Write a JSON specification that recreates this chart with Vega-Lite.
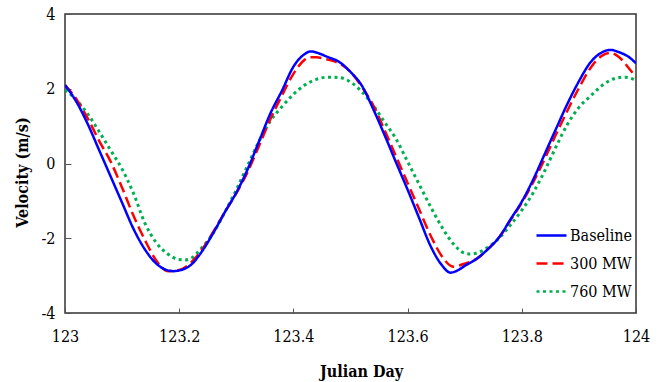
{
  "$schema": "https://vega.github.io/schema/vega-lite/v6.json",
  "autosize": "none",
  "width": 571,
  "height": 299,
  "padding": {"left": 65, "top": 14, "right": 26, "bottom": 69},
  "background": "white",
  "config": {
    "view": {"stroke": "#333", "strokeWidth": 1.5},
    "font": "DejaVu Serif Condensed"
  },
  "datasets": {
    "Baseline": [
      {"d":123.00,"v":2.10},{"d":123.02,"v":1.65},{"d":123.04,"v":1.05},{"d":123.06,"v":0.35},{"d":123.08,"v":-0.35},{"d":123.10,"v":-1.05},{"d":123.12,"v":-1.75},{"d":123.14,"v":-2.30},{"d":123.16,"v":-2.68},{"d":123.18,"v":-2.86},{"d":123.19,"v":-2.88},{"d":123.20,"v":-2.86},{"d":123.22,"v":-2.72},{"d":123.24,"v":-2.35},{"d":123.26,"v":-1.85},{"d":123.28,"v":-1.30},{"d":123.30,"v":-0.78},{"d":123.32,"v":-0.15},{"d":123.34,"v":0.60},{"d":123.36,"v":1.35},{"d":123.38,"v":1.95},{"d":123.40,"v":2.59},{"d":123.42,"v":2.93},{"d":123.43,"v":3.00},{"d":123.44,"v":2.97},{"d":123.46,"v":2.85},{"d":123.48,"v":2.72},{"d":123.50,"v":2.45},{"d":123.52,"v":2.08},{"d":123.54,"v":1.45},{"d":123.56,"v":0.75},{"d":123.58,"v":0.02},{"d":123.60,"v":-0.70},{"d":123.62,"v":-1.45},{"d":123.64,"v":-2.20},{"d":123.66,"v":-2.72},{"d":123.675,"v":-2.92},{"d":123.69,"v":-2.84},{"d":123.70,"v":-2.74},{"d":123.72,"v":-2.56},{"d":123.74,"v":-2.30},{"d":123.76,"v":-1.98},{"d":123.78,"v":-1.50},{"d":123.80,"v":-1.02},{"d":123.82,"v":-0.43},{"d":123.84,"v":0.25},{"d":123.86,"v":0.93},{"d":123.88,"v":1.60},{"d":123.90,"v":2.20},{"d":123.92,"v":2.70},{"d":123.94,"v":2.97},{"d":123.955,"v":3.04},{"d":123.97,"v":2.98},{"d":123.99,"v":2.82},{"d":124.00,"v":2.68}
    ],
    "MW300": [
      {"d":123.00,"v":2.10},{"d":123.02,"v":1.72},{"d":123.04,"v":1.20},{"d":123.06,"v":0.60},{"d":123.08,"v":0.05},{"d":123.10,"v":-0.65},{"d":123.12,"v":-1.40},{"d":123.14,"v":-2.05},{"d":123.16,"v":-2.60},{"d":123.18,"v":-2.88},{"d":123.20,"v":-2.85},{"d":123.22,"v":-2.66},{"d":123.24,"v":-2.30},{"d":123.26,"v":-1.82},{"d":123.28,"v":-1.30},{"d":123.30,"v":-0.80},{"d":123.32,"v":-0.22},{"d":123.34,"v":0.48},{"d":123.36,"v":1.20},{"d":123.38,"v":1.82},{"d":123.40,"v":2.40},{"d":123.42,"v":2.78},{"d":123.43,"v":2.84},{"d":123.44,"v":2.84},{"d":123.46,"v":2.78},{"d":123.48,"v":2.68},{"d":123.50,"v":2.45},{"d":123.52,"v":2.05},{"d":123.54,"v":1.55},{"d":123.56,"v":0.88},{"d":123.58,"v":0.18},{"d":123.60,"v":-0.52},{"d":123.62,"v":-1.22},{"d":123.64,"v":-1.92},{"d":123.66,"v":-2.48},{"d":123.68,"v":-2.76},{"d":123.70,"v":-2.68},{"d":123.72,"v":-2.56},{"d":123.74,"v":-2.30},{"d":123.76,"v":-1.98},{"d":123.78,"v":-1.52},{"d":123.80,"v":-1.05},{"d":123.82,"v":-0.50},{"d":123.84,"v":0.12},{"d":123.86,"v":0.78},{"d":123.88,"v":1.42},{"d":123.90,"v":2.02},{"d":123.92,"v":2.55},{"d":123.94,"v":2.88},{"d":123.955,"v":2.96},{"d":123.97,"v":2.85},{"d":123.99,"v":2.50},{"d":124.00,"v":2.31}
    ],
    "MW760": [
      {"d":123.00,"v":1.97},{"d":123.02,"v":1.70},{"d":123.04,"v":1.32},{"d":123.06,"v":0.85},{"d":123.08,"v":0.35},{"d":123.10,"v":-0.15},{"d":123.12,"v":-0.80},{"d":123.14,"v":-1.60},{"d":123.16,"v":-2.12},{"d":123.18,"v":-2.42},{"d":123.20,"v":-2.57},{"d":123.21,"v":-2.58},{"d":123.22,"v":-2.54},{"d":123.24,"v":-2.25},{"d":123.26,"v":-1.85},{"d":123.28,"v":-1.30},{"d":123.30,"v":-0.70},{"d":123.32,"v":-0.05},{"d":123.34,"v":0.60},{"d":123.36,"v":1.15},{"d":123.38,"v":1.52},{"d":123.40,"v":1.85},{"d":123.42,"v":2.10},{"d":123.44,"v":2.25},{"d":123.46,"v":2.31},{"d":123.48,"v":2.30},{"d":123.50,"v":2.18},{"d":123.52,"v":1.92},{"d":123.54,"v":1.55},{"d":123.56,"v":1.10},{"d":123.58,"v":0.65},{"d":123.60,"v":0.05},{"d":123.62,"v":-0.55},{"d":123.64,"v":-1.15},{"d":123.66,"v":-1.70},{"d":123.68,"v":-2.15},{"d":123.70,"v":-2.40},{"d":123.71,"v":-2.42},{"d":123.72,"v":-2.40},{"d":123.74,"v":-2.25},{"d":123.76,"v":-2.00},{"d":123.78,"v":-1.65},{"d":123.80,"v":-1.25},{"d":123.82,"v":-0.78},{"d":123.84,"v":-0.20},{"d":123.86,"v":0.45},{"d":123.88,"v":1.05},{"d":123.90,"v":1.50},{"d":123.92,"v":1.80},{"d":123.94,"v":2.08},{"d":123.96,"v":2.26},{"d":123.98,"v":2.31},{"d":124.00,"v":2.23}
    ]
  },
  "layer": [
    {
      "data": {"name": "MW760"},
      "transform": [{"calculate": "'760 MW'", "as": "s"}],
      "mark": {"type": "line", "interpolate": "monotone", "strokeWidth": 3, "clip": true},
      "encoding": {
        "x": {"field": "d", "type": "quantitative"},
        "y": {"field": "v", "type": "quantitative"},
        "color": {"field": "s", "type": "nominal"},
        "strokeDash": {"field": "s", "type": "nominal"}
      }
    },
    {
      "data": {"name": "MW300"},
      "transform": [{"calculate": "'300 MW'", "as": "s"}],
      "mark": {"type": "line", "interpolate": "monotone", "strokeWidth": 2.5, "clip": true},
      "encoding": {
        "x": {"field": "d", "type": "quantitative"},
        "y": {"field": "v", "type": "quantitative"},
        "color": {"field": "s", "type": "nominal"},
        "strokeDash": {"field": "s", "type": "nominal"}
      }
    },
    {
      "data": {"name": "Baseline"},
      "transform": [{"calculate": "'Baseline'", "as": "s"}],
      "mark": {"type": "line", "interpolate": "monotone", "strokeWidth": 2.5, "clip": true},
      "encoding": {
        "x": {"field": "d", "type": "quantitative",
          "scale": {"domain": [123, 124], "nice": false, "zero": false},
          "axis": {"values": [123, 123.2, 123.4, 123.6, 123.8, 124], "format": "~r", "grid": false, "domain": false, "labelFlush": false,
            "tickSize": -5, "tickColor": "#555", "labelPadding": 20, "labelFont": "DejaVu Serif Condensed", "labelFontSize": 16, "labelColor": "#000",
            "title": "Julian Day", "titleFont": "DejaVu Serif Condensed", "titleFontSize": 16, "titleFontWeight": "bold", "titleColor": "#000", "titlePadding": 19, "titleX": 296}},
        "y": {"field": "v", "type": "quantitative",
          "scale": {"domain": [-4, 4], "nice": false},
          "axis": {"values": [-4, -2, 0, 2, 4], "grid": false, "domain": false,
            "labelExpr": "datum.value < 0 ? '-' + (-datum.value) : '' + datum.value",
            "tickSize": -6, "tickColor": "#555", "labelPadding": 16, "labelFont": "DejaVu Serif Condensed", "labelFontSize": 16, "labelColor": "#000",
            "title": "Velocity (m/s)", "titleFont": "DejaVu Serif Condensed", "titleFontSize": 16, "titleFontWeight": "bold", "titleColor": "#000", "titlePadding": 10, "titleY": 158}},
        "color": {"field": "s", "type": "nominal",
          "scale": {"domain": ["Baseline", "300 MW", "760 MW"], "range": ["#0000FF", "#FF0000", "#00B050"]},
          "legend": {"title": null, "orient": "none", "legendX": 470, "legendY": 205, "symbolType": "stroke", "symbolSize": 900, "symbolStrokeWidth": 2.5,
            "labelFont": "DejaVu Serif Condensed", "labelFontSize": 16, "labelColor": "#000", "labelOffset": 2, "rowPadding": 3}},
        "strokeDash": {"field": "s", "type": "nominal",
          "scale": {"domain": ["Baseline", "300 MW", "760 MW"], "range": [[1, 0], [11, 5], [3, 3.5]]},
          "legend": {"title": null, "orient": "none", "legendX": 470, "legendY": 205, "symbolType": "stroke", "symbolSize": 900, "symbolStrokeWidth": 2.5,
            "labelFont": "DejaVu Serif Condensed", "labelFontSize": 16, "labelColor": "#000", "labelOffset": 2, "rowPadding": 3}}
      }
    }
  ]
}
